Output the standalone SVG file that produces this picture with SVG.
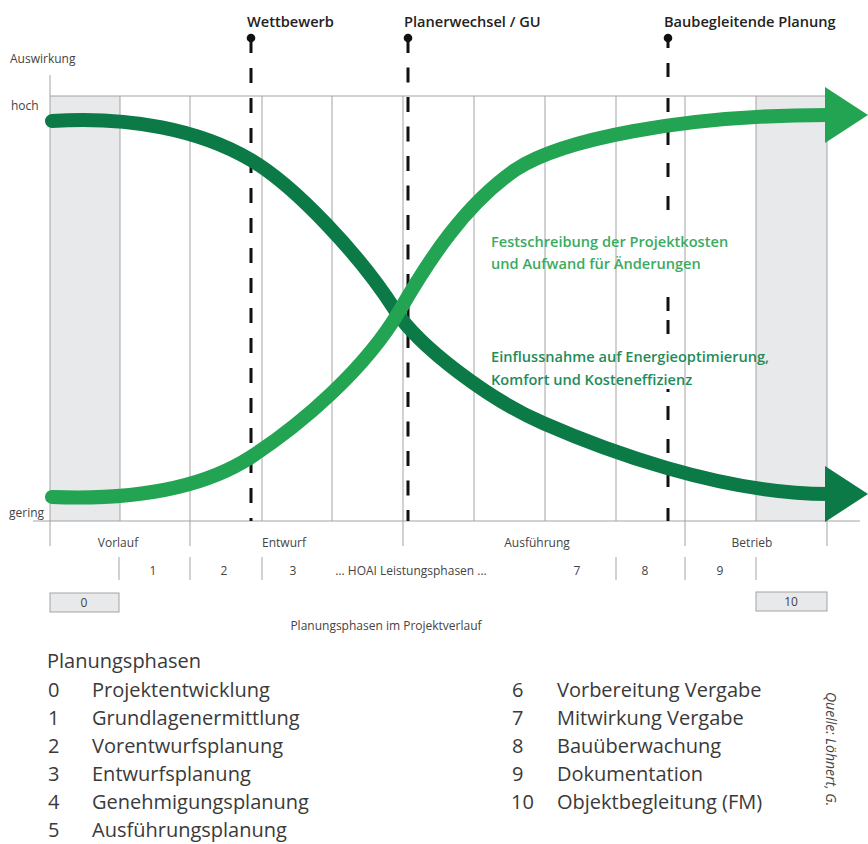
<svg xmlns="http://www.w3.org/2000/svg" width="868" height="844" viewBox="0 0 868 844">
<style>
text{font-family:"Open Sans","Noto Sans","Liberation Sans",sans-serif;}
.grid{stroke:#a3a3a3;stroke-width:1;fill:none;}
.shade{fill:#e8e9eb;}
.ax{font-size:12px;fill:#444;}
.ph{font-size:12px;fill:#444;text-anchor:middle;}
.top{font-size:14.6px;font-weight:600;fill:#222;}
.dash{stroke:#111;stroke-width:3;fill:none;}
.dot{fill:#111;}
.curve{fill:none;stroke-width:14;stroke-linecap:round;}
.leg{font-size:20px;fill:#3a3a3a;}
.box{fill:#e8e9eb;stroke:#a3a3a3;stroke-width:1;}
.lab{font-size:14.6px;font-weight:600;}
</style>
<rect width="868" height="844" fill="#ffffff"/>

<g id="grid">
  <rect class="shade" x="50" y="96" width="70" height="425"/>
  <rect class="shade" x="756" y="96" width="71" height="425"/>
  <line class="grid" x1="50" y1="96" x2="827" y2="96"/>
  <line class="grid" x1="33" y1="521" x2="860" y2="521"/>
  <line class="grid" x1="50" y1="75" x2="50" y2="546"/>
  <line class="grid" x1="120" y1="96" x2="120" y2="521"/>
  <line class="grid" x1="190" y1="96" x2="190" y2="546"/>
  <line class="grid" x1="262" y1="96" x2="262" y2="521"/>
  <line class="grid" x1="332" y1="96" x2="332" y2="521"/>
  <line class="grid" x1="403" y1="96" x2="403" y2="546"/>
  <line class="grid" x1="474" y1="96" x2="474" y2="521"/>
  <line class="grid" x1="545" y1="96" x2="545" y2="521"/>
  <line class="grid" x1="616" y1="96" x2="616" y2="521"/>
  <line class="grid" x1="685" y1="96" x2="685" y2="546"/>
  <line class="grid" x1="756" y1="96" x2="756" y2="521"/>
  <line class="grid" x1="827" y1="96" x2="827" y2="546"/>
</g>

<g id="axis-labels">
  <text class="ax" x="10" y="63">Auswirkung</text>
  <text class="ax" x="11" y="110">hoch</text>
  <text class="ax" x="9" y="517">gering</text>
</g>

<g id="milestones">
  <g id="wettbewerb">
    <circle class="dot" cx="251" cy="38" r="4.3"/>
    <line class="dash" x1="251" y1="38" x2="251" y2="521" stroke-dasharray="15 15"/>
    <text class="top" x="247" y="27">Wettbewerb</text>
  </g>
  <g id="planerwechsel">
    <circle class="dot" cx="408" cy="38" r="4.3"/>
    <line class="dash" x1="408" y1="38" x2="408" y2="521" stroke-dasharray="15 14.5"/>
    <text class="top" x="404" y="27">Planerwechsel / GU</text>
  </g>
  <g id="baubegleitend">
    <circle class="dot" cx="668" cy="38" r="4.3"/>
    <path class="dash" d="M668,38 V48 M668,63 V77 M668,98 V112 M668,131 V145 M668,163 V177 M668,196 V210 M668,297 V311 M668,320 V334 M668,389 V392 M668,406 V420 M668,439 V453 M668,473 V487 M668,508 V521"/>
    <text class="top" x="664" y="27">Baubegleitende Planung</text>
  </g>
</g>

<g id="connectors">
  <g id="curve-einfluss">
    <path class="curve" stroke="#0b7a47" d="M52,121 C130,116 200,130 251,160 C295,186 360,255 395,310 C420,348 490,400 543,423 C600,448 720,494 828,494"/>
    <polygon fill="#0b7a47" points="825,466 868,494 825,522"/>
  </g>
  <g id="curve-festschreibung">
    <path class="curve" stroke="#22a453" d="M52,497 C130,500 200,490 251,457 C300,425 365,370 400,310 C430,258 465,205 515,170 C560,140 680,115 828,115"/>
    <polygon fill="#22a453" points="825,87 868,115 825,143"/>
  </g>
</g>

<g id="curve-labels">
  <text class="lab" fill="#3aab5f" x="491" y="247">Festschreibung der Projektkosten</text>
  <text class="lab" fill="#3aab5f" x="491" y="269">und Aufwand für Änderungen</text>
  <text class="lab" fill="#1f8c5a" x="491" y="362">Einflussnahme auf Energieoptimierung,</text>
  <text class="lab" fill="#1f8c5a" x="491" y="385">Komfort und Kosteneffizienz</text>
</g>

<g id="phases">
  <text class="ph" x="118" y="547">Vorlauf</text>
  <text class="ph" x="284" y="547">Entwurf</text>
  <text class="ph" x="537" y="547">Ausführung</text>
  <text class="ph" x="752" y="547">Betrieb</text>

  <line class="grid" x1="119" y1="557" x2="119" y2="580"/>
  <line class="grid" x1="190" y1="557" x2="190" y2="580"/>
  <line class="grid" x1="262" y1="557" x2="262" y2="580"/>
  <line class="grid" x1="616" y1="557" x2="616" y2="580"/>
  <line class="grid" x1="685" y1="557" x2="685" y2="580"/>
  <line class="grid" x1="756" y1="557" x2="756" y2="580"/>
  <text class="ph" x="153" y="575">1</text>
  <text class="ph" x="224" y="575">2</text>
  <text class="ph" x="293" y="575">3</text>
  <text class="ph" x="411" y="575">... HOAI Leistungsphasen ...</text>
  <text class="ph" x="577" y="575">7</text>
  <text class="ph" x="645" y="575">8</text>
  <text class="ph" x="720" y="575">9</text>

  <g id="phase0">
    <rect class="box" x="50" y="593" width="69" height="19"/>
    <text class="ph" x="84" y="607">0</text>
  </g>
  <g id="phase10">
    <rect class="box" x="756" y="592" width="71" height="19"/>
    <text class="ph" x="791" y="606">10</text>
  </g>
  <text class="ph" x="386" y="630">Planungsphasen im Projektverlauf</text>
</g>

<g id="legend">
  <text class="leg" x="47" y="668">Planungsphasen</text>
  <text class="leg" x="48" y="697">0</text><text class="leg" x="92" y="697">Projektentwicklung</text>
  <text class="leg" x="48" y="725">1</text><text class="leg" x="92" y="725">Grundlagenermittlung</text>
  <text class="leg" x="48" y="753">2</text><text class="leg" x="92" y="753">Vorentwurfsplanung</text>
  <text class="leg" x="48" y="781">3</text><text class="leg" x="92" y="781">Entwurfsplanung</text>
  <text class="leg" x="48" y="809">4</text><text class="leg" x="92" y="809">Genehmigungsplanung</text>
  <text class="leg" x="48" y="837">5</text><text class="leg" x="92" y="837">Ausführungsplanung</text>
  <text class="leg" x="512" y="697">6</text><text class="leg" x="557" y="697">Vorbereitung Vergabe</text>
  <text class="leg" x="512" y="725">7</text><text class="leg" x="557" y="725">Mitwirkung Vergabe</text>
  <text class="leg" x="512" y="753">8</text><text class="leg" x="557" y="753">Bauüberwachung</text>
  <text class="leg" x="512" y="781">9</text><text class="leg" x="557" y="781">Dokumentation</text>
  <text class="leg" x="511" y="809">10</text><text class="leg" x="557" y="809">Objektbegleitung (FM)</text>
</g>

<text x="826" y="692" transform="rotate(90 826 692)" font-size="14" font-style="italic" fill="#444">Quelle: Löhnert, G.</text>
</svg>
